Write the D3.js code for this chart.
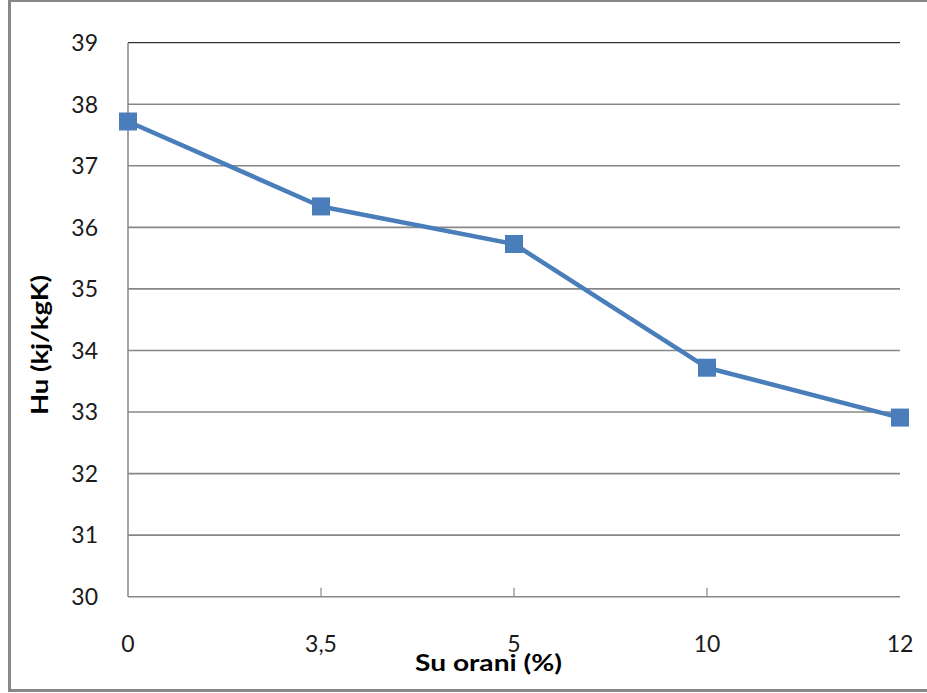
<!DOCTYPE html>
<html>
<head>
<meta charset="utf-8">
<script src="https://cdn.jsdelivr.net/npm/d3@7"></script>
<style>
  html, body { margin: 0; padding: 0; background: #fff; }
  svg { display: block; }
</style>
</head>
<body>
<svg id="chart" width="927" height="693"></svg>
<script>
// ---- data ----
const categories = ["0", "3,5", "5", "10", "12"];
const values = [37.72, 36.34, 35.73, 33.72, 32.91];
const yTicks = [30, 31, 32, 33, 34, 35, 36, 37, 38, 39];
const xTitle = "Su orani (%)";
const yTitle = "Hu (kj/kgK)";

// ---- layout ----
const W = 927, H = 693;
const plot = { left: 128, right: 900, top: 42.7, bottom: 596.7 };
const svg = d3.select("#chart");

// outer frame
svg.append("rect")
  .attr("x", 9.5).attr("y", 0.5)
  .attr("width", W + 10).attr("height", 690)
  .attr("fill", "#fff").attr("stroke", "#888").attr("stroke-width", 3);

const x = d3.scalePoint().domain(categories).range([plot.left, plot.right]).padding(0);
const y = d3.scaleLinear().domain([30, 39]).range([plot.bottom, plot.top]);

// gridlines
svg.append("g").selectAll("line")
  .data(yTicks.filter(t => t > 30))
  .join("line")
  .attr("x1", plot.left).attr("x2", plot.right)
  .attr("y1", d => y(d)).attr("y2", d => y(d))
  .attr("stroke", d => d === 39 ? "#000" : "#878787")
  .attr("stroke-width", d => d === 39 ? 1 : 1.6);

// y axis line
svg.append("line")
  .attr("x1", plot.left).attr("x2", plot.left)
  .attr("y1", plot.top).attr("y2", plot.bottom)
  .attr("stroke", "#878787").attr("stroke-width", 1.5);

// x axis line
svg.append("line")
  .attr("x1", plot.left).attr("x2", plot.right)
  .attr("y1", plot.bottom).attr("y2", plot.bottom)
  .attr("stroke", "#878787").attr("stroke-width", 1.5);

// x tick marks (inside)
svg.append("g").selectAll("line")
  .data(categories.slice(1, -1))
  .join("line")
  .attr("x1", d => x(d)).attr("x2", d => x(d))
  .attr("y1", plot.bottom).attr("y2", plot.bottom - 9)
  .attr("stroke", "#878787").attr("stroke-width", 1.2);

const tickFont = "Lato, 'Open Sans', sans-serif";

// y tick labels
svg.append("g").selectAll("text")
  .data(yTicks)
  .join("text")
  .attr("x", 98).attr("y", d => y(d))
  .attr("dy", "0.36em")
  .attr("text-anchor", "end")
  .attr("font-family", tickFont).attr("font-size", 23).attr("font-weight", 400)
  .attr("fill", "#1a1a1a")
  .text(d => d);

// x tick labels
svg.append("g").selectAll("text")
  .data(categories)
  .join("text")
  .attr("x", d => x(d)).attr("y", 652)
  .attr("text-anchor", "middle")
  .attr("font-family", tickFont).attr("font-size", 23).attr("font-weight", 400)
  .attr("fill", "#1a1a1a")
  .text(d => d);

// axis titles
svg.append("text")
  .attr("x", 488.5).attr("y", 671)
  .attr("text-anchor", "middle")
  .attr("font-family", tickFont).attr("font-size", 22).attr("font-weight", "bold")
  .attr("fill", "#000")
  .attr("textLength", 147).attr("lengthAdjust", "spacingAndGlyphs")
  .text(xTitle);

svg.append("text")
  .attr("transform", "translate(48,345) rotate(-90)")
  .attr("text-anchor", "middle")
  .attr("font-family", tickFont).attr("font-size", 23).attr("font-weight", "bold")
  .attr("fill", "#000")
  .attr("textLength", 140).attr("lengthAdjust", "spacingAndGlyphs")
  .text(yTitle);

// series line
const color = "#4A7EBB";
const pts = categories.map((c, i) => ({ c, v: values[i] }));
svg.append("path")
  .datum(pts)
  .attr("d", d3.line().x(d => x(d.c)).y(d => y(d.v)))
  .attr("fill", "none").attr("stroke", color)
  .attr("stroke-width", 4.5).attr("stroke-linejoin", "round");

// markers
const ms = 18;
svg.append("g").selectAll("rect")
  .data(pts)
  .join("rect")
  .attr("x", d => x(d.c) - ms / 2).attr("y", d => y(d.v) - ms / 2)
  .attr("width", ms).attr("height", ms)
  .attr("fill", color);
</script>
</body>
</html>
